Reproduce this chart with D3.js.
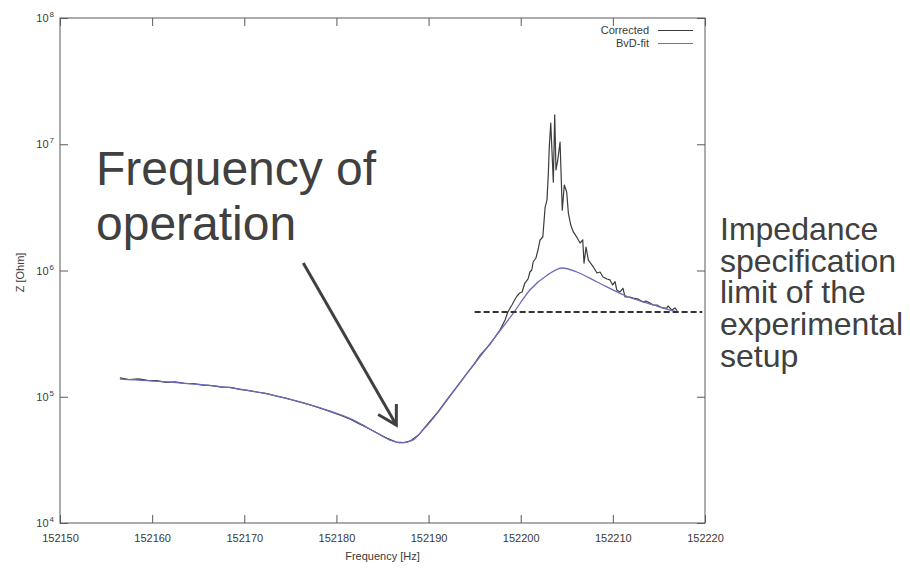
<!DOCTYPE html>
<html><head><meta charset="utf-8">
<script src="https://cdn.jsdelivr.net/npm/d3@7"></script>
<style>
body{margin:0;background:#fff}
text{font-family:"Liberation Sans",Arial,Helvetica,sans-serif}
</style>
</head><body>
<svg id="c" width="910" height="569"></svg>
<script>
// ---- data ----
const xTicks = [152150,152160,152170,152180,152190,152200,152210,152220];
const yTickExps = [4,5,6,7,8];

const bvdFreq = [152156.5,152161.6,152168.8,152173.1,152177.9,152181.8,152184.4,152185.8,152186.9,152188.3,152189.4,152191.2,152192.0,152194.2,152196.3,152199.2,152201.0,152202.9,152204.5,152206.1,152208.3,152211.5,152214.4,152216.2,152217.1];
const bvdZ    = [138000,131000,117000,103000,83000,65500,51600,45400,43100,45400,54600,78500,94200,154000,243000,460000,701000,920000,1047000,973000,811000,625000,533000,486000,469000];

const corrFreq = [152156.5,152157.5,152158.5,152159.5,152160.5,152161.5,152162.5,152163.5,152164.5,152165.5,152166.5,152167.5,152168.5,152169.5,152170.5,152171.5,152172.5,152173.5,152174.5,152175.5,152176.5,152177.5,152178.5,152179.5,152180.5,152181.5,152182.5,152183.5,152184.5,152185.5,152186.5,152187.3,152188.0,152189.0,152190.0,152191.0,152192.0,152193.0,152194.0,152195.0,152195.6,152196.7,152197.75,152198.3,152198.6,152199.05,152199.4,152199.6,152199.9,152200.15,152200.45,152200.8,152201.0,152201.2,152201.35,152201.65,152201.9,152202.1,152202.4,152202.65,152202.85,152203.0,152203.1,152203.26,152203.54,152203.69,152203.83,152204.02,152204.27,152204.51,152204.73,152204.99,152205.17,152205.43,152205.71,152206.08,152206.44,152206.73,152206.87,152207.09,152207.34,152207.88,152208.28,152208.61,152208.93,152209.37,152209.69,152209.98,152210.24,152210.42,152210.78,152211.1,152211.32,152211.86,152212.19,152212.73,152213.27,152213.6,152214.03,152214.36,152214.79,152215.12,152215.44,152215.84,152215.99,152216.39,152216.75,152216.97];
const corrZ    = [141000,137000,138500,135000,134000,130000,131000,127500,127000,123500,122500,119000,118500,114500,112000,108500,106000,101000,97500,93000,89000,84500,80000,75500,71000,66500,61000,56000,51200,46800,43800,43300,44500,50500,62000,75500,95000,118000,148000,184000,214000,262000,338000,405000,469000,533000,594000,628000,664000,676000,796000,857000,973000,1009000,1168000,1256000,1480000,1745000,1843000,3180000,3610000,5910000,9500000,14700000,5000000,17100000,6250000,7500000,10400000,3000000,4750000,4190000,2850000,2290000,2020000,1840000,1650000,1750000,1145000,1535000,1210000,1067000,955000,973000,889000,857000,842000,768000,815000,701000,676000,723000,617000,617000,605000,594000,562000,573000,553000,533000,533000,516000,505000,502000,524000,486000,505000,480000];

const limitFreq = [152195.0, 152219.7];
const limitZ = 470000;

const arrowFrom = [152176.4, 1145000];
const arrowTo   = [152186.5, 59700];

const legendLabels = ["Corrected","BvD-fit"];
const leftNote = ["Frequency of","operation"];
const rightNote = ["Impedance","specification","limit of the","experimental","setup"];

// ---- drawing ----
const svg = d3.select("#c");
const L=60, R=705, T=18, B=523;
const x = d3.scaleLinear([152150,152220],[L,R]);
const y = d3.scaleLog([1e4,1e8],[B,T]);

const frameCol = "#5a5a5a";
const g = svg.append("g");

const ax = g.append("g").attr("transform",`translate(0,${B})`)
  .call(d3.axisBottom(x).tickValues(xTicks).tickSize(-8).tickPadding(11).tickFormat(d3.format("d")));
const axT = g.append("g").attr("transform",`translate(0,${T})`)
  .call(d3.axisTop(x).tickValues(xTicks).tickSize(-8).tickFormat(""));
const ayL = g.append("g").attr("transform",`translate(${L},0)`)
  .call(d3.axisLeft(y).tickValues(yTickExps.map(e=>Math.pow(10,e))).tickSize(-8).tickFormat(""));
const ayR = g.append("g").attr("transform",`translate(${R},0)`)
  .call(d3.axisRight(y).tickValues(yTickExps.map(e=>Math.pow(10,e))).tickSize(-8).tickFormat(""));
[ax,axT,ayL,ayR].forEach(a=>{
  a.select(".domain").remove();
  a.selectAll(".tick line").attr("stroke",frameCol).attr("stroke-width",1);
  a.selectAll(".tick text").attr("fill","#3a3a3a").style("font-size","11px").style("font-family","'Liberation Sans',Arial,sans-serif");
});

yTickExps.forEach(e=>{
  const t = g.append("text").attr("x",54).attr("y",y(Math.pow(10,e))+4)
    .attr("text-anchor","end").attr("fill","#3a3a3a").style("font-size","11px");
  t.append("tspan").text("10");
  t.append("tspan").attr("dy",-5).attr("dx",1).style("font-size","8px").text(String(e));
});

g.append("rect").attr("x",L).attr("y",T).attr("width",R-L).attr("height",B-T)
  .attr("fill","none").attr("stroke",frameCol).attr("stroke-width",1);

g.append("text").attr("x",(L+R)/2).attr("y",560).attr("text-anchor","middle")
  .attr("fill","#3a3a3a").style("font-size","11px").text("Frequency [Hz]");
g.append("text").attr("transform",`translate(24,${(T+B)/2+2}) rotate(-90)`).attr("text-anchor","middle")
  .attr("fill","#3a3a3a").style("font-size","11px").text("Z [Ohm]");

const corr = corrFreq.map((f,i)=>[f,corrZ[i]]);
const bvd = bvdFreq.map((f,i)=>[f,bvdZ[i]]);
g.append("path").datum(corr).attr("d",d3.line().x(d=>x(d[0])).y(d=>y(d[1])).curve(d3.curveLinear))
  .attr("fill","none").attr("stroke","#3c3c3c").attr("stroke-width",1.2).attr("stroke-linejoin","round");
g.append("path").datum(bvd).attr("d",d3.line().x(d=>x(d[0])).y(d=>y(d[1])).curve(d3.curveMonotoneX))
  .attr("fill","none").attr("stroke","#6c6cbc").attr("stroke-width",1.3);

const legCols = ["#3c3c3c","#6c6cbc"];
legendLabels.forEach((lab,i)=>{
  const yy = 30.5 + i*13;
  g.append("text").attr("x",649).attr("y",yy+3.5).attr("text-anchor","end")
    .attr("fill","#3a3a3a").style("font-size","11px").text(lab);
  g.append("line").attr("x1",658).attr("x2",693).attr("y1",yy).attr("y2",yy)
    .attr("stroke",legCols[i]).attr("stroke-width",1.1);
});

g.append("line").attr("x1",x(limitFreq[0])).attr("x2",x(limitFreq[1]))
  .attr("y1",y(limitZ)).attr("y2",y(limitZ))
  .attr("stroke","#333").attr("stroke-width",2).attr("stroke-dasharray","6,3");

const ax0=x(arrowFrom[0]), ay0=y(arrowFrom[1]), ax1=x(arrowTo[0]), ay1=y(arrowTo[1]);
const ang = Math.atan2(ay0-ay1, ax0-ax1);
const hl = 21, ha = 30*Math.PI/180;
const arrowCol = "#404040";
g.append("line").attr("x1",ax0).attr("y1",ay0).attr("x2",ax1).attr("y2",ay1)
  .attr("stroke",arrowCol).attr("stroke-width",3);
g.append("path").attr("d",
  `M${ax1+hl*Math.cos(ang+ha)},${ay1+hl*Math.sin(ang+ha)} L${ax1},${ay1} L${ax1+hl*Math.cos(ang-ha)},${ay1+hl*Math.sin(ang-ha)}`)
  .attr("fill","none").attr("stroke",arrowCol).attr("stroke-width",3).attr("stroke-linejoin","miter");

const lt = g.append("text").attr("fill","#404040").style("font-size","48px");
leftNote.forEach((s,i)=>{
  lt.append("tspan").attr("x",96).attr("y",185+i*55).text(s);
});
const rt = g.append("text").attr("fill","#404040").style("font-size","32px");
rightNote.forEach((s,i)=>{
  rt.append("tspan").attr("x",720).attr("y",240+i*31.7).text(s);
});
</script>
</body></html>
